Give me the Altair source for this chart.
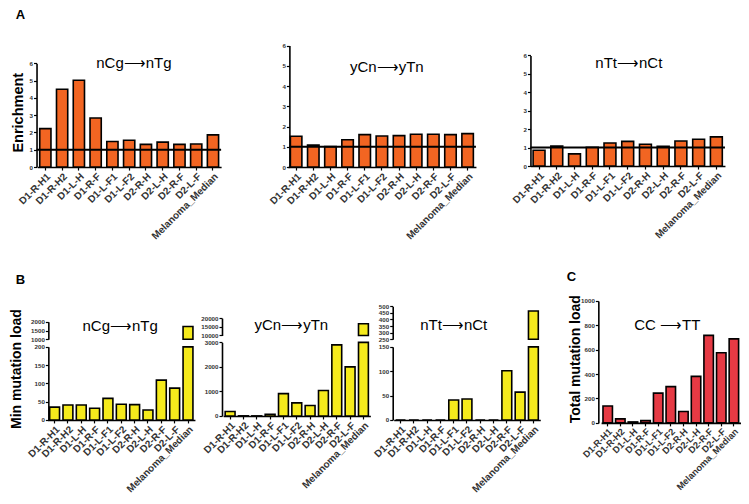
import altair as alt
import pandas as pd

# ---------------- data ----------------
samples = ["D1-R-H1", "D1-R-H2", "D1-L-H", "D1-R-F", "D1-L-F1", "D1-L-F2",
           "D2-R-H", "D2-L-H", "D2-R-F", "D2-L-F", "Melanoma_Median"]

# Panel A: enrichment
enrich_nCg_nTg = [2.22, 4.50, 5.02, 2.84, 1.48, 1.55, 1.31, 1.44, 1.31, 1.33, 1.86]
enrich_yCn_yTn = [1.52, 1.08, 1.01, 1.35, 1.60, 1.53, 1.55, 1.62, 1.62, 1.60, 1.65]
enrich_nTt_nCt = [0.86, 1.08, 0.66, 1.02, 1.25, 1.34, 1.18, 1.07, 1.36, 1.45, 1.58]
enrich_reference = [1]

# Panel B: min mutation load (broken axes)
minload_nCg_nTg = [35, 41, 41, 32, 59, 43, 42, 27, 109, 87, 1730]
minload_yCn_yTn = [180, 6, 4, 70, 910, 535, 425, 1040, 2900, 2000, 16800]
minload_nTt_nCt = [0, 0, 0, 0, 41, 43, 0, 0, 101, 57, 465]

# Panel C: total mutation load
total_CC_TT = [139, 33, 8, 19, 244, 297, 94, 381, 717, 575, 689]

mutation_titles = ["nCg\u27f6nTg", "yCn\u27f6yTn", "nTt\u27f6nCt"]
cc_title = "CC \u27f6TT"
panel_letters = ["A", "B", "C"]
y_titles = ["Enrichment", "Min mutation load", "Total mutation load"]

# ticks
ticks_A = [0, 1, 2, 3, 4, 5, 6]
ticks_B1_low, ticks_B1_up = [0, 50, 100, 150, 200], [1000, 1500, 2000]
ticks_B2_low, ticks_B2_up = [0, 1000, 2000, 3000], [10000, 15000, 20000]
ticks_B3_low, ticks_B3_up = [0, 50, 100, 150], [250, 300, 350, 400, 450, 500]
ticks_C = [0, 200, 400, 600, 800, 1000]

# ---------------- layout / style ----------------
W, H = 733, 488
SX = W / 745.0
SY = H / 494.0
FONT = "Liberation Sans"
ORANGE, YELLOW, RED = "#F26522", "#F5EA1C", "#E63A44"


def pxx(v):
    return (v - 2) * SX


def pxy(v):
    return (v - 2) * SY


def xenc(x0, x1, pi, po, axis_y, lsize=10):
    return alt.X(
        "sample:N", sort=samples,
        scale=alt.Scale(range=[pxx(x0), pxx(x1)], paddingInner=pi, paddingOuter=po),
        axis=alt.Axis(orient="bottom", offset=pxy(axis_y) - H, title=None,
                      labelAngle=-45, labelFontSize=lsize, labelFontWeight="bold",
                      labelColor="#333333", labelFont=FONT, labelPadding=1,
                      tickSize=3, tickColor="black", tickWidth=1.2,
                      domainColor="black", domainWidth=1.6, labelOverlap=False),
    )


def yenc(domain, y0, y1, ticks, axis_x, clamp=False):
    return alt.Y(
        "value:Q",
        scale=alt.Scale(domain=domain, range=[pxy(y0), pxy(y1)], nice=False,
                        zero=False, clamp=clamp),
        axis=alt.Axis(orient="left", offset=-pxx(axis_x), values=ticks, title=None,
                      grid=False, format="d", labelOverlap=False,
                      labelFontSize=6.2, labelFontWeight="bold", labelColor="#333333",
                      labelFont=FONT, labelPadding=1, tickSize=3, tickColor="black",
                      tickWidth=1.2, domainColor="black", domainWidth=1.6),
    )


def frame(vals):
    return pd.DataFrame({"sample": samples, "value": vals})


def enrich_panel(vals, xr, pi, po, yr, axis_x):
    x = xenc(xr[0], xr[1], pi, po, yr[0])
    y = yenc([0, 6], yr[0], yr[1], ticks_A, axis_x)
    bars = alt.Chart(frame(vals)).mark_bar(
        color=ORANGE, stroke="black", strokeWidth=1.6
    ).encode(x=x, y=y, y2=alt.datum(0))
    ref = alt.Chart(pd.DataFrame({"ref": enrich_reference})).mark_rule(
        color="black", strokeWidth=2
    ).encode(y=alt.Y("ref:Q"), x=alt.value(pxx(axis_x)), x2=alt.value(pxx(xr[1])))
    return alt.layer(bars, ref)


def broken_panel(vals, xr, pi, po, low, up, axis_x):
    # low/up: (domain, y_bottom, y_top, ticks)
    x = xenc(xr[0], xr[1], pi, po, low[1])
    lower = alt.Chart(frame(vals)).mark_bar(
        color=YELLOW, stroke="black", strokeWidth=1.6
    ).encode(x=x, y=yenc(low[0], low[1], low[2], low[3], axis_x, clamp=True),
             y2=alt.datum(low[0][0]))
    upper = alt.Chart(frame(vals)).transform_filter(
        alt.datum.value > up[0][0]
    ).mark_bar(color=YELLOW, stroke="black", strokeWidth=1.6).encode(
        x=x, y=yenc(up[0], up[1], up[2], up[3], axis_x, clamp=True),
        y2=alt.datum(up[0][0]))
    return alt.layer(lower, upper).resolve_scale(y="independent").resolve_axis(y="independent")


def simple_panel(vals, xr, pi, po, dom, yr, ticks, axis_x, color):
    x = xenc(xr[0], xr[1], pi, po, yr[0], lsize=9.3)
    return alt.Chart(frame(vals)).mark_bar(
        color=color, stroke="black", strokeWidth=1.6
    ).encode(x=x, y=yenc(dom, yr[0], yr[1], ticks, axis_x), y2=alt.datum(0))


def label(text, x, y, size, weight="normal", angle=0, align="center", baseline="middle"):
    return alt.Chart(pd.DataFrame({"t": [text]})).mark_text(
        font=FONT, fontSize=size, fontWeight=weight, angle=angle, align=align,
        baseline=baseline, color="black"
    ).encode(x=alt.value(pxx(x)), y=alt.value(pxy(y)), text="t:N")


layers = [
    enrich_panel(enrich_nCg_nTg, (31.7, 218.6), 0.33, 0.15, (163, 58), 31),
    enrich_panel(enrich_yCn_yTn, (286.4, 477.6), 0.33, 0.15, (163, 40), 288),
    enrich_panel(enrich_nTt_nCt, (533, 730.7), 0.33, 0.15, (162, 50), 533),
    broken_panel(minload_nCg_nTg, (42.3, 192), 0.26, 0.15,
                 ([0, 200], 419, 345, ticks_B1_low), ([1000, 2000], 337.3, 319.7, ticks_B1_up), 43),
    broken_panel(minload_yCn_yTn, (220.7, 370.3), 0.26, 0.15,
                 ([0, 3000], 415, 340.5, ticks_B2_low), ([10000, 20000], 333.5, 316, ticks_B2_up), 219.5),
    broken_panel(minload_nTt_nCt, (394, 543), 0.26, 0.15,
                 ([0, 150], 419, 345, ticks_B3_low), ([250, 500], 337.3, 304, ticks_B3_up), 393),
    simple_panel(total_CC_TT, (604.8, 746.5), 0.25, 0.15, [0, 1000], (422, 298.5),
                 ticks_C, 602, RED),
    label(mutation_titles[0], 130, 58, 15),
    label(mutation_titles[1], 387, 61.7, 15),
    label(mutation_titles[2], 633, 57.7, 15),
    label(mutation_titles[0], 116, 324, 15),
    label(mutation_titles[1], 290, 323, 15),
    label(mutation_titles[2], 455, 323, 15),
    label(cc_title, 672, 323, 15),
    label(panel_letters[0], 10, 13.5, 13, "bold", align="left", baseline="alphabetic"),
    label(panel_letters[1], 10, 281, 13, "bold", align="left", baseline="alphabetic"),
    label(panel_letters[2], 570, 278, 13, "bold", align="left", baseline="alphabetic"),
    label(y_titles[0], 13, 108, 14.5, "bold", angle=270),
    label(y_titles[1], 11.5, 367.5, 14, "bold", angle=270),
    label(y_titles[2], 579, 357.5, 14, "bold", angle=270),
]

chart = alt.layer(*layers).resolve_scale(
    x="independent", y="independent"
).resolve_axis(x="independent", y="independent").properties(
    width=W, height=H, padding=0, autosize=alt.AutoSizeParams(type="none")
).configure_view(stroke=None)

chart.save("out.html", embed_options={"renderer": "svg", "actions": False})
